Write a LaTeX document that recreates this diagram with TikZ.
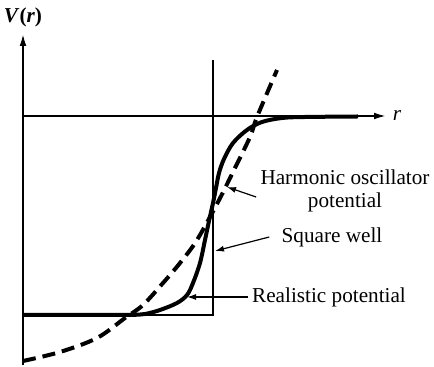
\documentclass[tikz,border=0pt]{standalone}
\usepackage{fontspec}
\setmainfont{Liberation Serif}
\usetikzlibrary{arrows.meta}
\tikzset{
  axisl/.style={line width=0.9pt, -{Latex[length=6pt, width=3.4pt]}},
  wellb/.style={line width=0.7pt},
  realc/.style={line width=2pt, line join=round},
  harmc/.style={line width=2pt, dash pattern=on 6.5pt off 3.5pt},
  labt/.style={font=\fontsize{10.6}{11.5}\selectfont, align=center, inner sep=2pt},
  pointer/.style={line width=0.6pt, -{Latex[length=4.5pt, width=3pt]}},
}

\begin{document}
\begin{tikzpicture}[x=0.5pt, y=-0.5pt]
    \useasboundingbox (0,0) rectangle (434,367);
    % axes
    \coordinate (orig) at (23,365);
    \coordinate (vtop) at (23,34);
    \coordinate (zero) at (23,116);
    \coordinate (rend) at (386,116);
    \draw[axisl] (orig) -- (vtop);
    \draw[axisl] (zero) -- (rend);
    \node[labt] (vlab) at (23,17) {\textbf{\textit{V}(\textit{r})}};
    \node[labt] (rlab) at (397,116) {\textit{r}};
    % square well
    \draw[wellb] (23,315) -- (213,315) -- (213,60);
    % realistic potential
    \draw[realc] (23,315) -- plot[smooth, tension=0.55] coordinates {(130,315) (145,314) (160,310) (177,303) (187,295)
      (193,283) (200,263) (205,240) (209,221) (213,203) (216,188) (219,173) (224,159) (233,143) (247,130)
      (262,122) (282,118) (305,117) (358,116.5)};
    % harmonic oscillator
    \draw[harmc] plot[smooth, tension=0.55] coordinates {(23,361) (60,352) (97,338) (125,318) (143,305) (163,283)
      (180,263) (197,240) (218,202) (233,172) (250,137) (257,117) (277,70)};
    % labels
    \node[labt] (holab) at (345,191) {Harmonic oscillator\\potential};
    \node[labt] (swlab) at (332,237) {Square well};
    \node[labt] (rplab) at (329,297) {Realistic potential};
    \coordinate (hotip) at (227,187);
    \coordinate (swtip) at (215,251);
    \coordinate (rptip) at (187,297);
    \draw[pointer] ([yshift=-3pt]holab.west) -- (hotip);
    \draw[pointer] ([xshift=-4pt]swlab.west) -- (swtip);
    \draw[pointer] (rplab.west) -- (rptip);
\end{tikzpicture}
\end{document}
